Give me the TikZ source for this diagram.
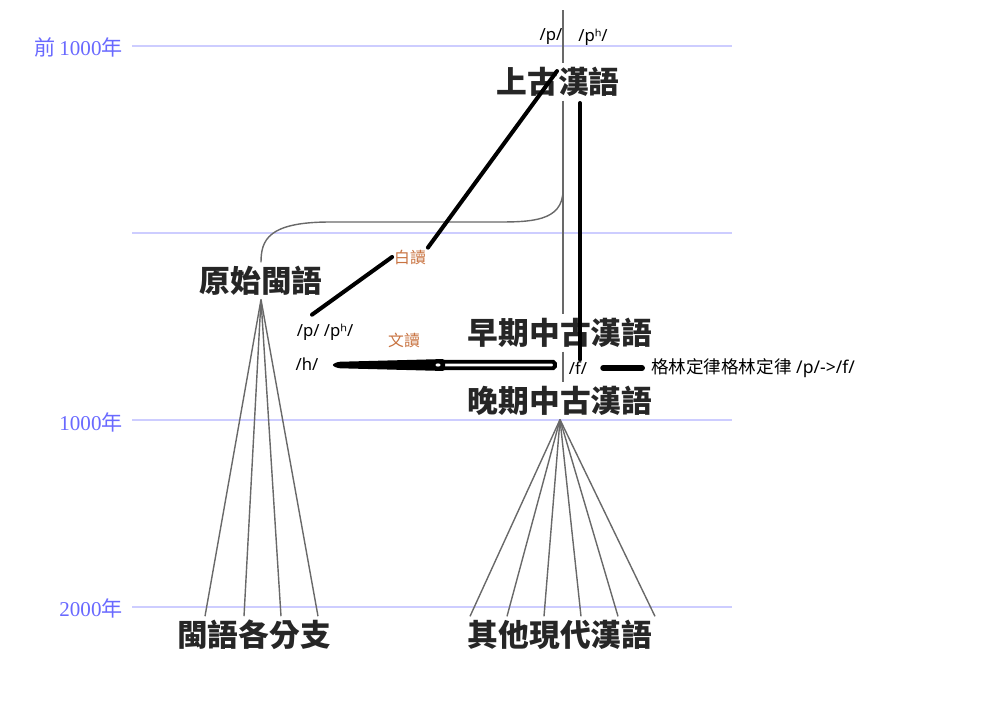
\documentclass[tikz,border=0pt]{standalone}
\usepackage{fontspec}
\setmainfont{Liberation Serif}
\newfontfamily\cjk{Noto Sans CJK TC}
\newfontfamily\lat{Noto Sans}
\usetikzlibrary{positioning,calc}
\definecolor{EraBlue}{RGB}{205,205,255}
\definecolor{EraText}{RGB}{105,105,255}
\definecolor{BranchGray}{RGB}{105,105,105}
\definecolor{ReadOrange}{RGB}{200,115,65}
\definecolor{LangInk}{RGB}{38,38,38}
\tikzset{
  era/.style={draw=EraBlue,line width=1.2pt},
  eralabel/.style={anchor=east,text=EraText,inner sep=0pt,
    font=\fontsize{12}{14}\selectfont},
  lang/.style={text=LangInk,inner sep=2pt,
    font=\cjk\bfseries\fontsize{17.5}{20}\selectfont},
  branch/.style={draw=BranchGray,line width=0.8pt},
  note/.style={draw=black,line width=2.3pt,line cap=round},
  hollow/.style={draw=black,line width=2.2pt,rounded corners=1pt},
  phon/.style={inner sep=1pt,font=\lat\fontsize{9.5}{11}\selectfont},
  reading/.style={text=ReadOrange,inner sep=1pt,
    font=\cjk\fontsize{9}{11}\selectfont}
}

\begin{document}
\begin{tikzpicture}[x=0.02cm,y=-0.02cm]
  \useasboundingbox (0,0) rectangle (986,700);
  \foreach \y in {46,233,420,607}
    \draw[era] (132,\y) -- (732,\y);
  \node[eralabel] (bc1000) at (123,47) {{\cjk 前}\,1000{\cjk 年}};
  \node[eralabel] (ad1000) at (123,422) {1000{\cjk 年}};
  \node[eralabel] (ad2000) at (123,608) {2000{\cjk 年}};

  \node[lang] (oc) at (558,82) {上古漢語};
  \node[lang] (pmin) at (261,281) {原始閩語};
  \node[lang] (emc) at (560,333) {早期中古漢語};
  \node[lang] (lmc) at (560,401) {晚期中古漢語};
  \node[lang] (minb) at (254,635) {閩語各分支};
  \node[lang] (modc) at (560,635) {其他現代漢語};

  \coordinate (trunktop) at (563,10);
  \coordinate (fork) at (563,190);
  \draw[branch] (trunktop) -- (trunktop |- oc.north);
  \draw[branch] (oc.south -| fork) -- (emc.north -| fork);
  \draw[branch] (emc.south -| fork) -- (lmc.north -| fork);
  \draw[branch] (fork) .. controls (563,222) and (530,222) .. (495,222)
    -- (330,222) .. controls (268,222) and (261,240) .. (pmin.north);
  \foreach \x in {205,244,281,318}
    \draw[branch] (pmin.south) -- (\x,0 |- minb.north);
  \foreach \x in {470,507,544,581,618,655}
    \draw[branch] (lmc.south) -- (\x,0 |- modc.north);

  \node[phon] (p1) at (551,37) {/p/};
  \node[phon] (ph1) at (593,37) {/pʰ/};
  \node[reading] (bai) at (410,257) {白讀};
  \node[reading] (wen) at (404,340) {文讀};
  \node[phon] (pp) at (325,332) {/p/ /pʰ/};
  \node[phon] (h) at (307,364) {/h/};
  \node[phon] (f) at (578,368) {/f/};
  \node[phon,anchor=west,font=\lat\fontsize{10}{12}\selectfont] (law) at (649,368)
    {{\cjk 格林定律格林定律} /p/->/f/};

  \draw[note] ($(p1.south)+(6,24)$) -- (bai.north east);
  \draw[note] (bai.west) -- ($(pp.north)+(-13,-7)$);
  \coordinate (fline) at (580,103);
  \draw[note] (fline) -- (fline |- f.north);

  \coordinate (hollowR) at ($(f.west)+(-12,-3)$);
  \coordinate (hollowL) at (440,365);
  \coordinate (tip) at ($(h.east)+(11,1)$);
  \draw[hollow] ($(hollowL)+(0,-3.3)$) rectangle ($(hollowR)+(0,3.3)$);
  \fill[rounded corners=1.5pt] ($(hollowL)+(5,-6)$) -- ($(tip)+(6,-3.2)$) -- (tip)
    -- ($(tip)+(6,3.2)$) -- ($(hollowL)+(5,6)$) -- cycle;
  \fill[white] ($(hollowL)+(-2,0)$) ellipse (2.5 and 1.6);
  \draw[note,line width=3.4pt,shorten <=4pt,shorten >=8pt] (law.west) -- (f.east);
\end{tikzpicture}
\end{document}
